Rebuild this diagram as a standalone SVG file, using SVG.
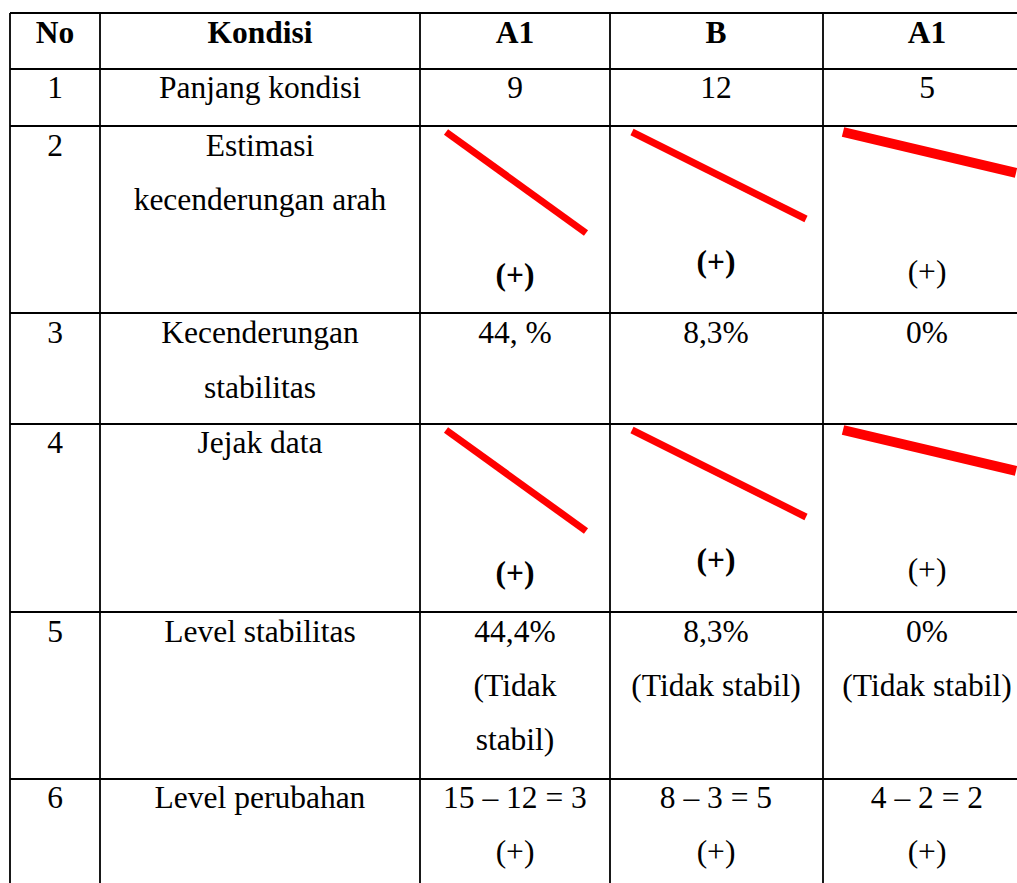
<svg xmlns="http://www.w3.org/2000/svg" width="1017" height="883" viewBox="0 0 1017 883">
<style>
.t{font-size:31.5px;fill:#000;text-anchor:middle}
.b{font-weight:bold}
.g{stroke:#000;stroke-width:1.8;fill:none}
.r{stroke:#ff0000;stroke-width:7;fill:none}
.r2{stroke:#ff0000;stroke-width:10;fill:none}
</style>
<rect width="1017" height="883" fill="#fff"/>
<g id="grid" class="g">
<path d="M10,13H1017M10,69H1017M10,126H1017M10,313H1017M10,424H1017M10,612H1017M10,779H1017"/>
<path d="M10,13V883M100,13V883M420,13V883M610,13V883M823,13V883"/>
</g>
<g id="marks">
<line class="r" x1="446" y1="132" x2="586" y2="233"/>
<line class="r" x1="632" y1="132" x2="806" y2="219"/>
<line class="r2" x1="843" y1="132" x2="1016" y2="173"/>
<line class="r" x1="446" y1="430" x2="586" y2="531"/>
<line class="r" x1="632" y1="430" x2="806" y2="517"/>
<line class="r2" x1="843" y1="430" x2="1016" y2="471"/>
</g>
<g id="cells" font-family="'Liberation Serif', 'Times New Roman', 'DejaVu Serif', serif">
<g id="header">
<text class="t b" x="55" y="43">No</text>
<text class="t b" x="260" y="43">Kondisi</text>
<text class="t b" x="515" y="43">A1</text>
<text class="t b" x="716" y="43">B</text>
<text class="t b" x="927" y="43">A1</text>
</g>
<g id="row1">
<text class="t" x="55" y="98">1</text>
<text class="t" x="260" y="98">Panjang kondisi</text>
<text class="t" x="515" y="98">9</text>
<text class="t" x="716" y="98">12</text>
<text class="t" x="927" y="98">5</text>
</g>
<g id="row2">
<text class="t" x="55" y="156">2</text>
<text class="t" x="260" y="156">Estimasi</text>
<text class="t" x="260" y="210">kecenderungan arah</text>
<text class="t b" x="515" y="285">(+)</text>
<text class="t b" x="716" y="272">(+)</text>
<text class="t" x="927" y="282">(+)</text>
</g>
<g id="row3">
<text class="t" x="55" y="343">3</text>
<text class="t" x="260" y="343">Kecenderungan</text>
<text class="t" x="260" y="398">stabilitas</text>
<text class="t" x="515" y="343">44, %</text>
<text class="t" x="716" y="343">8,3%</text>
<text class="t" x="927" y="343">0%</text>
</g>
<g id="row4">
<text class="t" x="55" y="453">4</text>
<text class="t" x="260" y="453">Jejak data</text>
<text class="t b" x="515" y="583">(+)</text>
<text class="t b" x="716" y="570">(+)</text>
<text class="t" x="927" y="580">(+)</text>
</g>
<g id="row5">
<text class="t" x="55" y="642">5</text>
<text class="t" x="260" y="642">Level stabilitas</text>
<text class="t" x="515" y="642">44,4%</text>
<text class="t" x="515" y="696">(Tidak</text>
<text class="t" x="515" y="750">stabil)</text>
<text class="t" x="716" y="642">8,3%</text>
<text class="t" x="716" y="696">(Tidak stabil)</text>
<text class="t" x="927" y="642">0%</text>
<text class="t" x="927" y="696">(Tidak stabil)</text>
</g>
<g id="row6">
<text class="t" x="55" y="808">6</text>
<text class="t" x="260" y="808">Level perubahan</text>
<text class="t" x="515" y="808">15 – 12 = 3</text>
<text class="t" x="515" y="862">(+)</text>
<text class="t" x="716" y="808">8 – 3 = 5</text>
<text class="t" x="716" y="862">(+)</text>
<text class="t" x="927" y="808">4 – 2 = 2</text>
<text class="t" x="927" y="862">(+)</text>
</g>
</g>
</svg>
